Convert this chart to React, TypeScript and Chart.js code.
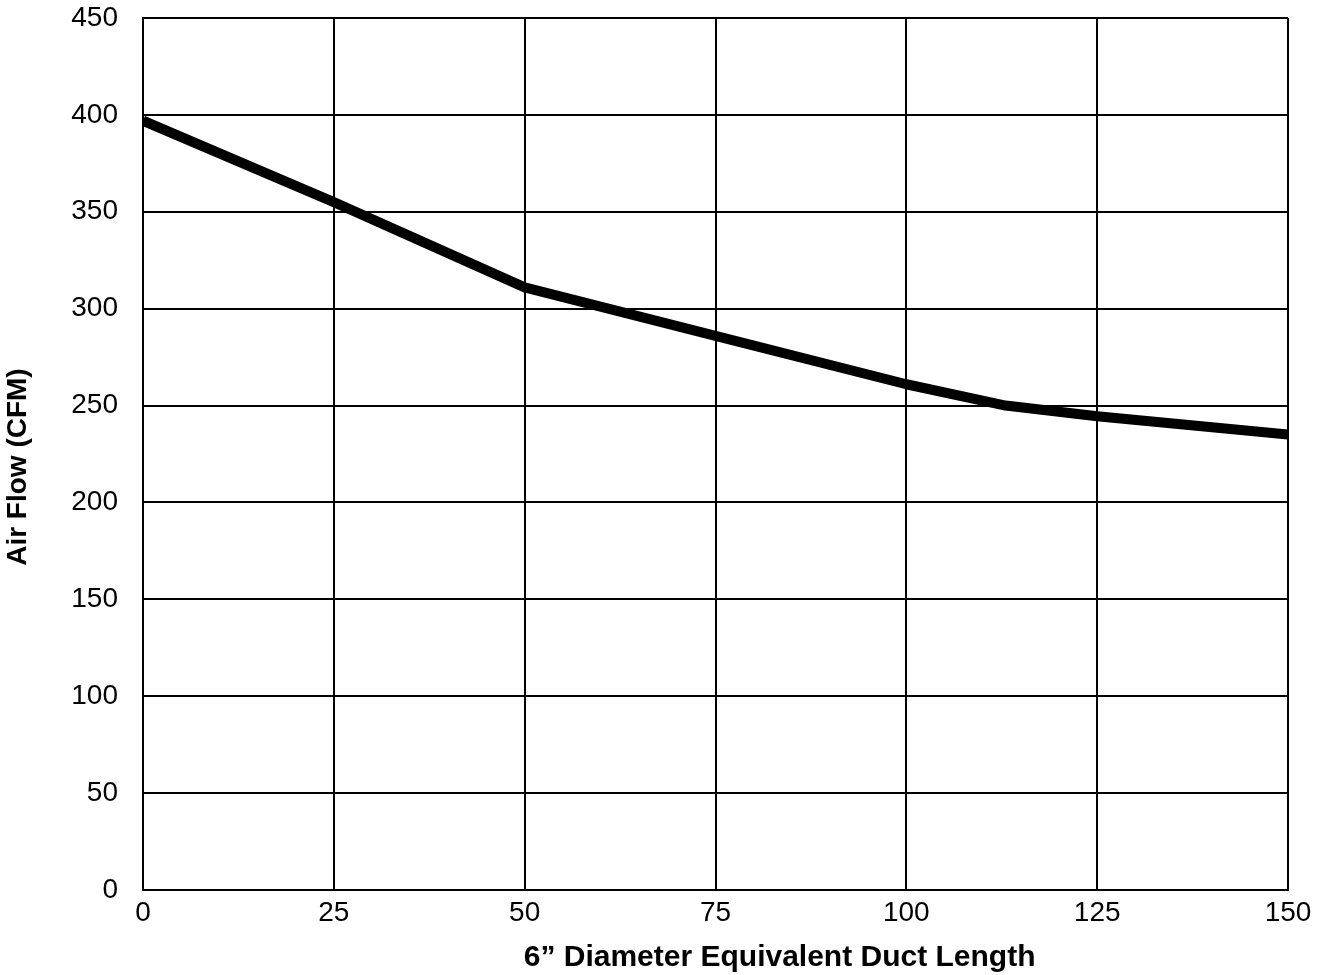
import React, { useEffect, useRef } from "react";
import { Chart, registerables } from "chart.js";

Chart.register(...registerables);

const ductLength = [0, 25, 50, 75, 100, 113, 125, 150];
const airFlow = [397, 355, 311, 286, 261, 250, 244.5, 235];
const xTicks = [0, 25, 50, 75, 100, 125, 150];
const yTicks = [0, 50, 100, 150, 200, 250, 300, 350, 400, 450];
const xTitle = "6\u201D Diameter Equivalent Duct Length";
const yTitle = "Air Flow (CFM)";

const FONT = "'Liberation Sans', Arial, Helvetica, sans-serif";

const axisTitles = {
  id: "axisTitles",
  afterDraw(chart: any) {
    const { ctx, chartArea } = chart;
    ctx.save();
    ctx.fillStyle = "#000";
    ctx.textAlign = "center";
    ctx.textBaseline = "middle";
    ctx.font = `bold 30px ${FONT}`;
    const cx = chartArea.left + (chartArea.right - chartArea.left) * 0.556;
    ctx.fillText(xTitle, cx, chartArea.bottom + 68);
    ctx.translate(18, chartArea.top + (chartArea.bottom - chartArea.top) * 0.515);
    ctx.rotate(-Math.PI / 2);
    ctx.font = `bold 28px ${FONT}`;
    ctx.fillText(yTitle, 0, 0);
    ctx.restore();
  },
};

export default function App() {
  const ref = useRef<HTMLCanvasElement | null>(null);

  useEffect(() => {
    document.body.style.margin = "0";
    const ctx = ref.current;
    if (!ctx) return;
    const chart = new Chart(ctx, {
      type: "line",
      data: {
        datasets: [
          {
            data: ductLength.map((x, i) => ({ x, y: airFlow[i] })),
            borderColor: "#000",
            borderWidth: 10,
            pointRadius: 0,
            tension: 0,
            fill: false,
            borderCapStyle: "butt",
            borderJoinStyle: "round",
          },
        ],
      },
      plugins: [axisTitles],
      options: {
        responsive: false,
        animation: false,
        maintainAspectRatio: false,
        layout: { padding: { top: 18, right: 36, left: 0, bottom: 0 } },
        plugins: { legend: { display: false }, tooltip: { enabled: false } },
        scales: {
          x: {
            type: "linear",
            min: 0,
            max: 150,
            afterBuildTicks: (s: any) => {
              s.ticks = xTicks.map((v) => ({ value: v }));
            },
            afterFit: (s: any) => {
              s.height = 85;
              s.paddingLeft = 0;
              s.paddingRight = 0;
            },
            grid: { color: "#000", lineWidth: 2, drawTicks: false },
            border: { color: "#000", width: 2 },
            ticks: {
              color: "#000",
              font: { family: FONT, size: 28 },
              padding: 6,
              maxRotation: 0,
              autoSkip: false,
            },
            title: { display: false },
          },
          y: {
            type: "linear",
            min: 0,
            max: 450,
            afterBuildTicks: (s: any) => {
              s.ticks = yTicks.map((v) => ({ value: v }));
            },
            afterFit: (s: any) => {
              s.width = 143;
              s.paddingTop = 0;
              s.paddingBottom = 0;
            },
            grid: { color: "#000", lineWidth: 2, drawTicks: false },
            border: { color: "#000", width: 2 },
            ticks: {
              color: "#000",
              font: { family: FONT, size: 28 },
              padding: 25,
              autoSkip: false,
            },
            title: { display: false },
          },
        },
      },
    });
    return () => chart.destroy();
  }, []);

  return (
    <div style={{ width: 1324, height: 975, background: "#fff" }}>
      <canvas ref={ref} width={1324} height={975} style={{ display: "block" }} />
    </div>
  );
}
